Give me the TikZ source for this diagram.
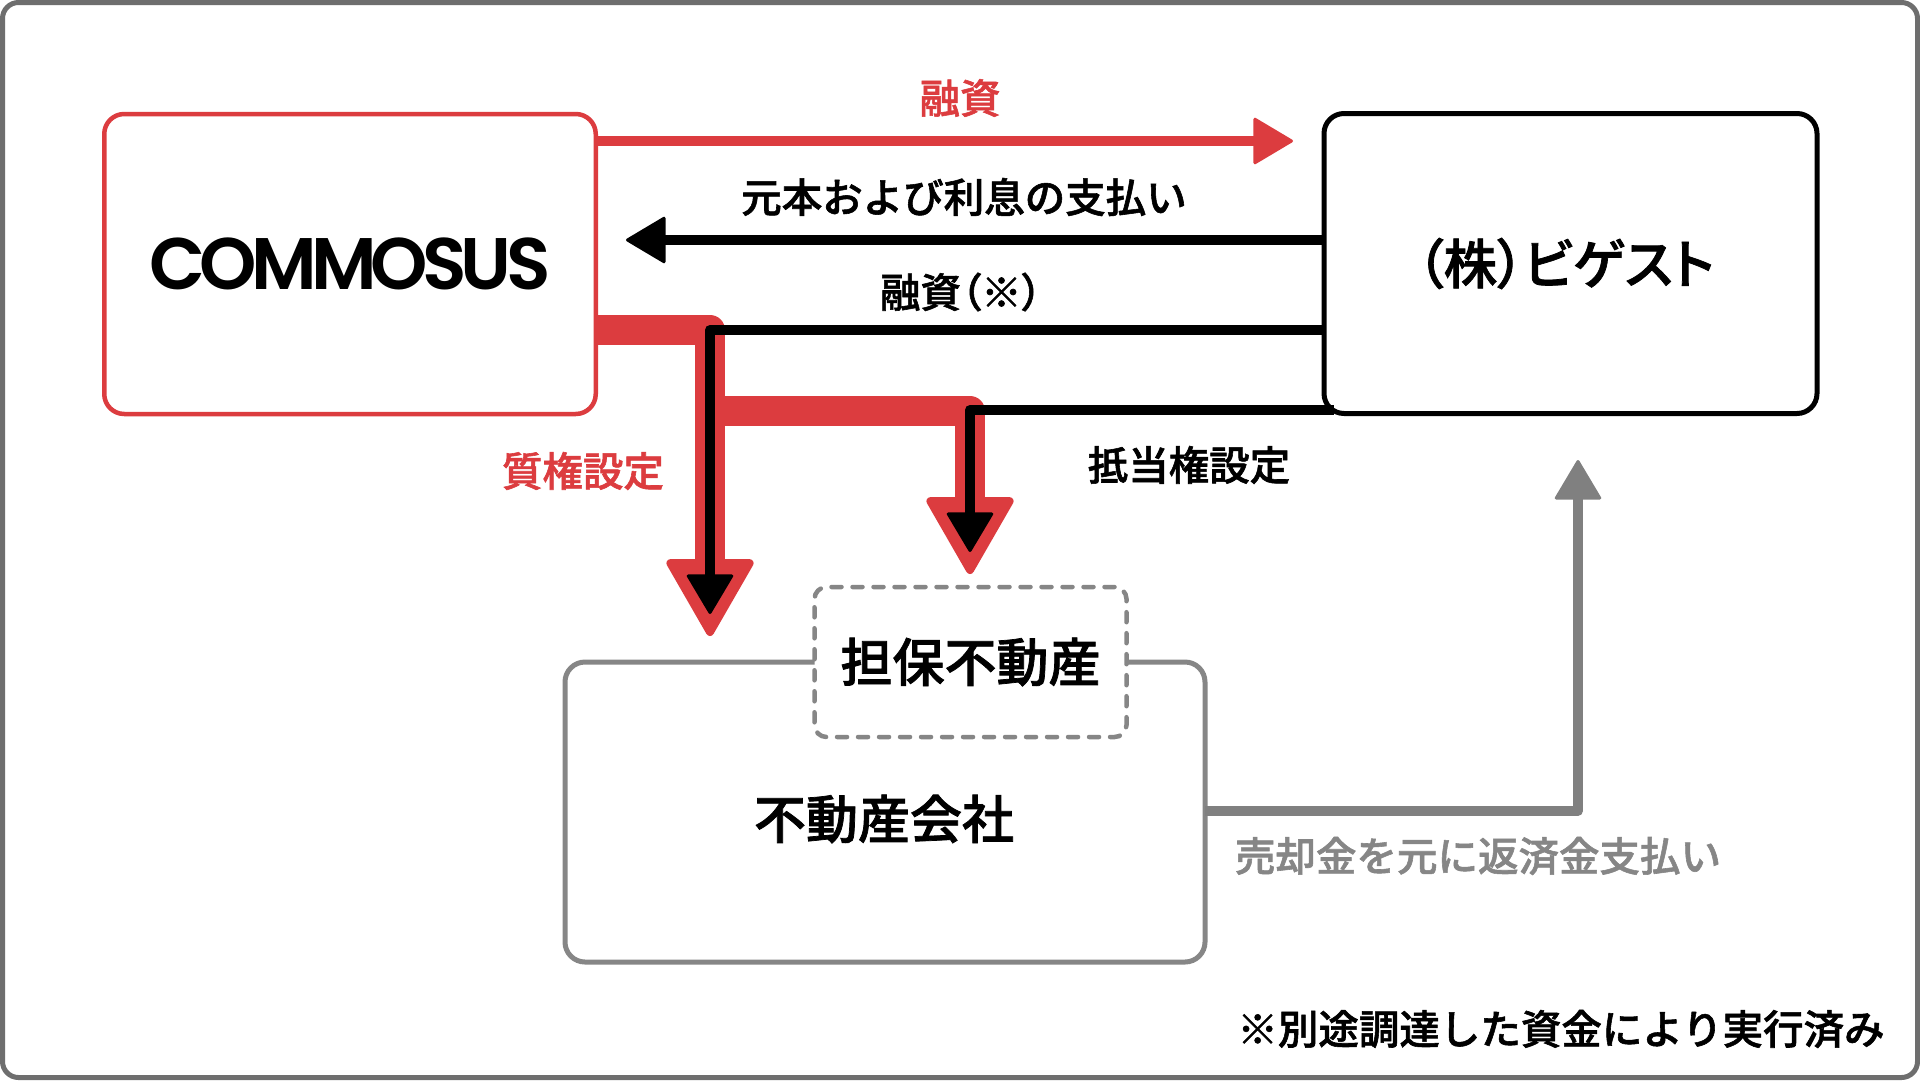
\documentclass[tikz,border=0pt]{standalone}
\usepackage{fontspec}
\setmainfont{Noto Sans CJK JP Medium}[FakeBold=1.4]
\newfontfamily\paltfont[RawFeature=+palt,FakeBold=1.4]{Noto Sans CJK JP Medium}
\newfontfamily\logofont[LetterSpace=-8]{Poppins SemiBold}
\usetikzlibrary{arrows.meta}
\definecolor{loanred}{HTML}{DC3C3F}
\definecolor{repaygray}{HTML}{808080}
\definecolor{boxgray}{HTML}{868686}
\definecolor{framegray}{HTML}{6E6E6E}
\tikzset{
  txt/.style={font=\fontsize{40.5}{48}\selectfont,inner sep=0pt},
  bigtxt/.style={font=\fontsize{52}{60}\selectfont,inner sep=0pt},
  party/.style={draw,line width=4.5pt,rounded corners=20pt,fill=white,outer sep=0pt,inner sep=0pt},
  flow/.style={line join=round,line width=10pt},
  bigtip/.style={-{Triangle[length=41pt,width=48pt,round,line width=3pt]}},
  hugetip/.style={-{Triangle[length=81pt,width=91pt,round,line width=8pt]}},
}

\begin{document}
\begin{tikzpicture}[x=1pt,y=-1pt]
   \useasboundingbox (0,0) rectangle (1920,1080);
   \node[party,draw=framegray,line width=5pt,rounded corners=16pt,minimum width=1915pt,minimum height=1075pt] (frame) at (960,540) {};

   \node[party,draw=loanred,minimum width=491.5pt,minimum height=300pt] (commosus) at (350,264) {\logofont\fontsize{73}{80}\selectfont COMMOSUS};
   \node[party,draw=black,line width=5pt,minimum width=493pt,minimum height=300pt,bigtxt] (bigest) at (1570.5,263.5) {\paltfont\fontsize{53.5}{60}\selectfont （株）ビゲスト\kern 10pt};
   \node[party,draw=boxgray,line width=5pt,minimum width=640pt,minimum height=300pt] (realty) at (885,812) {};
   \node[bigtxt] (realtytxt) at (884,819) {不動産会社};
   \node[party,draw=boxgray,dash pattern=on 10pt off 11pt,line cap=round,rounded corners=12pt,minimum width=312pt,minimum height=150pt,bigtxt] (collateral) at (970.5,662) {担保不動産};

   \coordinate (pledgetip) at (710,636);
   \coordinate (mortgagetip) at (970,574);
   \coordinate (pledgein) at (710,614);
   \coordinate (mortgagein) at (970,552);

   % red pledge and mortgage
   \draw[flow,loanred,line width=30pt,hugetip] (commosus.east |- 0,330) -| (pledgetip);
   \draw[flow,loanred,line width=30pt,hugetip] (pledgetip |- 0,411) -| (mortgagetip);

   % loans and repayment
   \draw[flow,loanred,bigtip] (commosus.east |- 0,141) -- (1293,141) coordinate (loantip);
   \draw[flow,bigtip] (bigest.west |- 0,240) -- (626,240) coordinate (paytip);
   \draw[flow,bigtip] (bigest.west |- 0,330) -| (pledgein);
   \draw[flow,bigtip] ([xshift=10pt]bigest.west |- 0,410) -| (mortgagein);
   \draw[flow,repaygray,line width=9.5pt,bigtip] (realty.east |- 0,811) -| (1578,460) coordinate (repaytip);

   \node[txt,text=loanred] (loanlabel) at (960,98) {融資};
   \node[txt] (paylabel) at (964,197) {元本および利息の支払い};
   \node[txt] (extralabel) at (961,292) {\paltfont 融資（※）};
   \node[txt,text=loanred] (pledgelabel) at (583,471) {質権設定};
   \node[txt] (mortgagelabel) at (1189,465) {抵当権設定};
   \node[txt,text=boxgray] (repaylabel) at (1478,856) {売却金を元に返済金支払い};
   \node[txt] (notelabel) at (1561,1029) {※別途調達した資金により実行済み};
 \end{tikzpicture}
\end{document}
